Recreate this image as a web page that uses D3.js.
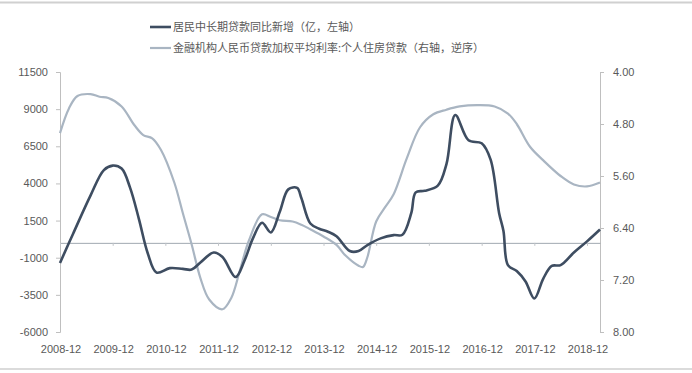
<!DOCTYPE html>
<html>
<head>
<meta charset="utf-8">
<script src="https://cdn.jsdelivr.net/npm/d3@7.9.0/dist/d3.min.js"></script>
<style>
  body { margin: 0; background: #fff; }
  svg { display: block; font-family: "Liberation Sans", "Noto Sans CJK SC", sans-serif; }
</style>
</head>
<body>
<div id="chart"></div>
<script>
// chart size
const width = 692;
const height = 373;
const plot = { left: 60, right: 600, top: 72, bottom: 332 };

// series: 居民中长期贷款同比新增 (亿, 左轴)
const loanMonths = [
  "2008-12", "2009-03", "2009-07", "2009-10", "2009-12", "2010-02", "2010-04", "2010-06",
  "2010-08", "2010-10", "2011-01", "2011-04", "2011-06", "2011-08", "2011-11", "2012-01",
  "2012-04", "2012-06", "2012-08", "2012-10", "2012-12", "2013-02", "2013-04", "2013-06",
  "2013-07", "2013-09", "2013-11", "2014-01", "2014-03", "2014-06", "2014-08", "2014-10",
  "2015-01", "2015-04", "2015-06", "2015-08", "2015-09", "2015-11", "2016-02", "2016-04",
  "2016-06", "2016-09", "2016-12", "2017-02", "2017-04", "2017-05", "2017-06", "2017-08",
  "2017-10", "2017-12", "2018-02", "2018-04", "2018-06", "2018-09", "2018-12", "2019-03"
];
const loanValues = [
  -1350, 600, 3200, 4900, 5200, 5000, 3700, 1600,
  -700, -2000, -1700, -1750, -1800, -1320, -650, -950,
  -2300, -1200, 350, 1350, 700, 2100, 3600, 3700,
  3000, 1300, 950, 750, 450, -550, -550, -150,
  300, 520, 550, 2000, 3400, 3500, 3850, 5300,
  8600, 6900, 6700, 5600, 2000, 800, -1500, -1900,
  -2600, -3750, -2400, -1550, -1500, -650, 100, 900
];

// series: 个人住房贷款加权平均利率 (右轴, 逆序)
const rateMonths = [
  "2008-12", "2009-02", "2009-04", "2009-07", "2009-09", "2009-11", "2010-02", "2010-05",
  "2010-07", "2010-09", "2010-11", "2011-02", "2011-04", "2011-06", "2011-08", "2011-10",
  "2012-01", "2012-03", "2012-05", "2012-07", "2012-10", "2012-12", "2013-02", "2013-05",
  "2013-07", "2013-09", "2013-12", "2014-03", "2014-05", "2014-08", "2014-09", "2014-10",
  "2014-12", "2015-02", "2015-04", "2015-07", "2015-10", "2016-01", "2016-04", "2016-07",
  "2016-11", "2017-03", "2017-06", "2017-08", "2017-11", "2018-02", "2018-06", "2018-09",
  "2018-12", "2019-03"
];
const rateValues = [
  4.94, 4.56, 4.37, 4.34, 4.38, 4.40, 4.53, 4.82,
  4.97, 5.02, 5.20, 5.70, 6.17, 6.65, 7.17, 7.50,
  7.65, 7.48, 7.05, 6.60, 6.19, 6.23, 6.28, 6.30,
  6.35, 6.42, 6.53, 6.66, 6.82, 6.98, 7.00, 6.85,
  6.30, 6.08, 5.88, 5.33, 4.85, 4.65, 4.58, 4.53,
  4.51, 4.53, 4.64, 4.80, 5.15, 5.36, 5.60, 5.73,
  5.76, 5.70
];

const xTickLabels = ["2008-12", "2009-12", "2010-12", "2011-12", "2012-12", "2013-12",
  "2014-12", "2015-12", "2016-12", "2017-12", "2018-12"];
const leftTicks = [-6000, -3500, -1000, 1500, 4000, 6500, 9000, 11500];
const rightTicks = [4.0, 4.8, 5.6, 6.4, 7.2, 8.0];

const legendLabels = [
  "居民中长期贷款同比新增（亿，左轴）",
  "金融机构人民币贷款加权平均利率:个人住房贷款（右轴，逆序）"
];

const darkColor = "#3e4d61";
const lightColor = "#a9b5c2";
const axisColor = "#bfbfbf";
const textColor = "#595959";

const parseMonth = d3.timeParse("%Y-%m");

const xScale = d3.scaleTime()
  .domain([parseMonth("2008-12"), parseMonth("2019-03")])
  .range([plot.left, plot.right]);

const yLeft = d3.scaleLinear()
  .domain([-6000, 11500])
  .range([plot.bottom, plot.top]);

// reversed right axis
const yRight = d3.scaleLinear()
  .domain([4, 8])
  .range([plot.top, plot.bottom]);

const svg = d3.select("#chart")
  .append("svg")
  .attr("width", width)
  .attr("height", height);

svg.append("rect")
  .attr("width", width)
  .attr("height", height)
  .attr("fill", "#fff");

// frame lines at top and bottom of the screenshot
svg.append("line")
  .attr("x1", 0).attr("x2", width)
  .attr("y1", 2.5).attr("y2", 2.5)
  .attr("stroke", "#d0d0d0")
  .attr("stroke-width", 2);
svg.append("line")
  .attr("x1", 0).attr("x2", width)
  .attr("y1", 369).attr("y2", 369)
  .attr("stroke", "#cfcfcf")
  .attr("stroke-width", 1.5);

// left axis (plain hyphen for negatives, as in the original)
const leftAxis = svg.append("g")
  .attr("transform", `translate(${plot.left},0)`)
  .call(d3.axisLeft(yLeft).tickValues(leftTicks).tickSize(4).tickPadding(8).tickFormat((d) => String(d)));

// right axis
const rightAxis = svg.append("g")
  .attr("transform", `translate(${plot.right},0)`)
  .call(d3.axisRight(yRight).tickValues(rightTicks).tickSize(4).tickPadding(9).tickFormat(d3.format(".2f")));

[leftAxis, rightAxis].forEach((g) => {
  g.select(".domain").attr("stroke", axisColor).attr("stroke-width", 1);
  g.selectAll(".tick line").attr("stroke", axisColor);
  g.selectAll(".tick text")
    .attr("fill", textColor)
    .style("font-size", "11px");
});

// horizontal axis drawn at zero of the left scale
const zeroY = yLeft(0);
const xAxis = svg.append("g")
  .attr("transform", `translate(0,${zeroY})`)
  .call(d3.axisBottom(xScale)
    .tickValues(xTickLabels.map(parseMonth))
    .tickSize(3)
    .tickSizeOuter(0)
    .tickFormat(""));
xAxis.select(".domain").attr("stroke", "#a0a8b0").attr("stroke-width", 1);
xAxis.selectAll(".tick line").attr("stroke", "#c0c4c8");

// date labels along the bottom
svg.append("g")
  .selectAll("text")
  .data(xTickLabels)
  .join("text")
  .attr("x", (d) => xScale(parseMonth(d)) + 1)
  .attr("y", 353)
  .attr("text-anchor", "middle")
  .attr("fill", textColor)
  .style("font-size", "11px")
  .text((d) => d);

// lines
const loanData = loanMonths.map((m, i) => ({ date: parseMonth(m), value: loanValues[i] }));
const rateData = rateMonths.map((m, i) => ({ date: parseMonth(m), value: rateValues[i] }));

const rateLine = d3.line()
  .x((d) => xScale(d.date))
  .y((d) => yRight(d.value))
  .curve(d3.curveCatmullRom.alpha(0.5));

const loanLine = d3.line()
  .x((d) => xScale(d.date))
  .y((d) => yLeft(d.value))
  .curve(d3.curveCatmullRom.alpha(0.5));

svg.append("path")
  .datum(rateData)
  .attr("d", rateLine)
  .attr("fill", "none")
  .attr("stroke", lightColor)
  .attr("stroke-width", 2.2);

svg.append("path")
  .datum(loanData)
  .attr("d", loanLine)
  .attr("fill", "none")
  .attr("stroke", darkColor)
  .attr("stroke-width", 2.6);

// legend
const legend = svg.append("g")
  .selectAll("g")
  .data(legendLabels)
  .join("g")
  .attr("transform", (d, i) => `translate(150,${27 + i * 21})`);

legend.append("line")
  .attr("x1", 0).attr("x2", 21)
  .attr("y1", 0).attr("y2", 0)
  .attr("stroke", (d, i) => (i === 0 ? darkColor : lightColor))
  .attr("stroke-width", (d, i) => (i === 0 ? 2.6 : 2.2));

legend.append("text")
  .attr("x", 23)
  .attr("y", 4)
  .attr("fill", textColor)
  .style("font-family", "'Noto Sans CJK SC', sans-serif")
  .style("font-size", "11px")
  .text((d) => d);
</script>
</body>
</html>
